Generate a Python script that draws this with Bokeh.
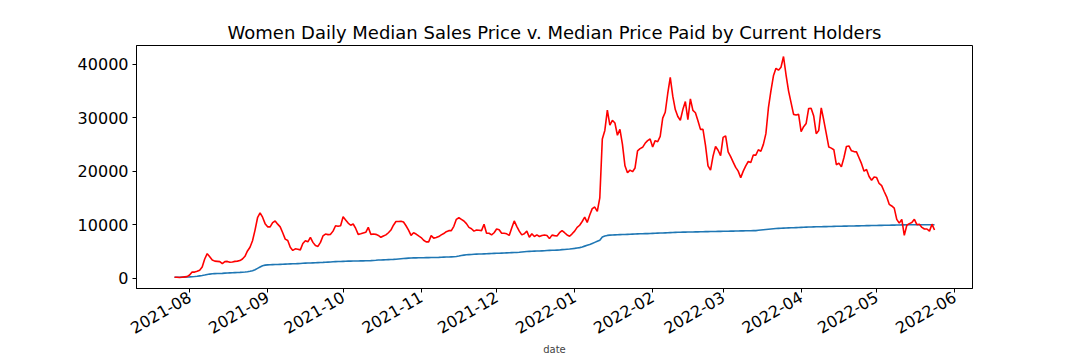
import pandas as pd
from bokeh.plotting import figure
from bokeh.models import Range1d, MonthsTicker, FixedTicker, DatetimeTickFormatter, BasicTickFormatter
from bokeh.embed import file_html
from bokeh.resources import INLINE
from math import pi

title_text = "Women Daily Median Sales Price v. Median Price Paid by Current Holders"
x_label = "date"
start_date = "2021-07-26"
y_ticks = [0, 10000, 20000, 30000, 40000]

# Daily median sales price (red)
sales_price = [
    200, 200, 150, 200, 250, 300,
    600, 1170, 1150, 1300, 1500, 2100, 3600, 4600, 4000, 3400,
    3200, 3150, 3100, 2720, 3100, 3150, 3000, 3050, 3150, 3200,
    3300, 3600, 4100, 5100, 5800, 7000, 9000, 11300, 12200, 11400,
    10200, 9600, 9600, 10400, 10700, 10100, 9600, 8500, 7300, 7050,
    5800, 5200, 5500, 5400, 5300, 6500, 7000, 6800, 7650,
    6700, 6100, 5950, 6700, 7900, 8250, 8150, 8200, 8800, 9800,
    9700, 9800, 11480, 10900, 10300, 9900, 10130, 9300, 8200, 8300,
    8450, 8580, 9500, 8200, 8250, 8200, 8000, 7650, 7900, 8100,
    8500, 9000, 9900, 10600, 10600, 10650, 10500, 9800, 9000, 8000,
    8500, 8250, 7900, 7600, 7100, 6800, 6800, 7960, 7500, 7600,
    7780, 8100, 8350, 8700, 8890, 8890, 9700, 11000, 11300, 11000,
    10700, 10200, 9500, 9250, 8800, 9000, 8950, 8890, 10100, 8400,
    8400, 8100, 8500, 9200, 9050, 8400, 8400, 8300, 8000, 9400,
    10700, 9700, 8800, 8100, 8300, 8800, 7650, 8300, 7800, 8090,
    7800, 8000, 8090, 8000, 7400, 8050, 7960, 7900, 8500,
    8890, 8500, 8090, 7850, 8300, 8800, 9500, 9900, 10600, 11400,
    10430, 11800, 13000, 13300, 12500, 15000, 26000, 27600, 31400, 28600,
    29500, 29000, 26700, 27800, 25000, 21000, 19700, 20200, 19900, 20600,
    23800, 24200, 24450, 25200, 25700, 26000, 24500, 25700, 25500, 26500,
    29900, 31000, 34500, 37500, 34000, 31500, 30200, 29500, 31500, 33000,
    29600, 33500, 31350, 30900, 29400, 27800, 27800, 24800, 21000, 20200,
    22800, 24600, 23900, 22900, 26300, 26600, 23600, 22700, 21700, 20700,
    20000, 18760, 20000, 21000, 21800, 21600, 23000, 23000, 24000, 23700,
    25000, 27000, 31800, 35000, 37800, 39200, 38850, 39400, 41400, 38000,
    35000, 32800, 30600, 30500, 30600, 27400, 28300, 28900, 31700, 31720,
    30300, 27000, 27600, 31800, 29500, 27000, 24500, 24300, 24000,
    21200, 21500, 20800, 22500, 24600, 24700, 23800, 23650, 23600, 22500,
    21400, 20000, 20300, 19000, 18300, 18900, 18800, 17700, 17300, 16200,
    15200, 13800, 13500, 13100, 11000, 10300, 11000, 8000, 9900, 10200,
    10400, 11000, 10000, 10100, 9500, 9200, 9200, 8800, 10100, 9000,
]

# Median price paid by current holders (blue)
holder_price = [
    200, 200, 200, 210, 220, 230,
    250, 280, 320, 380, 450, 520, 600, 700, 780, 830,
    860, 880, 900, 920, 950, 980, 1000, 1020, 1050, 1080,
    1100, 1130, 1170, 1220, 1300, 1420, 1600, 1850, 2100, 2350,
    2450, 2500, 2520, 2540, 2560, 2580, 2600, 2620, 2640, 2660,
    2680, 2700, 2720, 2740, 2760, 2800, 2820, 2840, 2860,
    2880, 2900, 2920, 2940, 2960, 2990, 3020, 3050, 3080, 3100,
    3120, 3140, 3160, 3180, 3190, 3200, 3210, 3220, 3230, 3240,
    3250, 3260, 3280, 3300, 3330, 3360, 3400, 3420, 3440, 3460,
    3480, 3500, 3520, 3560, 3600, 3640, 3680, 3720, 3760, 3790,
    3800, 3810, 3820, 3830, 3840, 3850, 3860, 3870, 3880, 3890,
    3900, 3920, 3940, 3960, 3980, 4000, 4020, 4060, 4150, 4250,
    4320, 4380, 4420, 4450, 4480, 4500, 4520, 4540, 4560, 4580,
    4600, 4620, 4640, 4660, 4680, 4700, 4720, 4740, 4760, 4780,
    4800, 4820, 4850, 4900, 4950, 5000, 5020, 5040, 5060, 5080,
    5100, 5120, 5140, 5180, 5200, 5220, 5240, 5260, 5280,
    5350, 5380, 5420, 5460, 5520, 5580, 5650, 5720, 5850, 6000,
    6150, 6300, 6500, 6700, 6900, 7100, 7700, 7900, 8000, 8050,
    8080, 8100, 8120, 8140, 8160, 8180, 8200, 8220, 8240, 8260,
    8280, 8300, 8320, 8330, 8340, 8360, 8380, 8400, 8420, 8440,
    8460, 8480, 8500, 8520, 8540, 8560, 8580, 8600, 8610, 8620,
    8630, 8640, 8650, 8660, 8670, 8680, 8690, 8700, 8710, 8720,
    8730, 8740, 8750, 8760, 8770, 8780, 8790, 8800, 8810, 8820,
    8830, 8840, 8850, 8860, 8870, 8880, 8890, 8900, 8950, 9000,
    9050, 9100, 9150, 9200, 9250, 9300, 9320, 9340, 9360, 9380,
    9400, 9420, 9440, 9460, 9480, 9500, 9520, 9540, 9560, 9580,
    9600, 9610, 9620, 9630, 9640, 9650, 9660, 9670, 9690,
    9700, 9710, 9720, 9730, 9740, 9750, 9760, 9770, 9780, 9790,
    9800, 9810, 9820, 9830, 9840, 9850, 9860, 9870, 9880, 9890,
    9900, 9910, 9920, 9930, 9940, 9950, 9960, 9970, 9980, 9990,
    10000, 10000, 10000, 10000, 10000, 10000, 10000, 10000, 10000, 10000,
]

n = min(len(sales_price), len(holder_price))
dates = pd.date_range(start_date, periods=n, freq="D")
sales = sales_price[:n]
holders = holder_price[:n]

span = dates[-1] - dates[0]
pad = span * 0.05
ymin = min(min(sales), min(holders))
ymax = max(max(sales), max(holders))
ypad = (ymax - ymin) * 0.05

p = figure(width=1072, height=358, x_axis_type="datetime",
           output_backend="svg", toolbar_location=None,
           x_range=Range1d(dates[0] - pad, dates[-1] + pad),
           y_range=Range1d(ymin - ypad, ymax + ypad),
           min_border_left=136, min_border_right=100,
           min_border_top=45, min_border_bottom=70)

p.line(dates, holders, line_color="#1f77b4", line_width=1.6)
p.line(dates, sales, line_color="#ff0000", line_width=1.6)

p.title.text = title_text
p.title.align = "center"
p.title.text_font = "DejaVu Sans"
p.title.text_font_size = "18px"
p.title.text_font_style = "normal"
p.title.text_color = "black"
p.title.standoff = 6

p.xgrid.visible = False
p.ygrid.visible = False
p.outline_line_color = "black"
p.outline_line_width = 1
p.background_fill_color = "white"
p.border_fill_color = "white"

p.xaxis.ticker = MonthsTicker(months=list(range(1, 13)))
fmt = "%Y-%m"
p.xaxis.formatter = DatetimeTickFormatter(days=fmt, months=fmt, years=fmt, hours=fmt,
                                          hourmin=fmt, minutes=fmt, minsec=fmt,
                                          seconds=fmt, milliseconds=fmt, microseconds=fmt)
p.xaxis.major_label_orientation = pi / 6
p.xaxis.axis_label = x_label
p.xaxis.axis_label_text_font = "DejaVu Sans"
p.xaxis.axis_label_text_font_size = "10px"
p.xaxis.axis_label_text_font_style = "normal"
p.xaxis.axis_label_standoff = 2
p.xaxis.major_label_standoff = 3

p.yaxis.ticker = FixedTicker(ticks=y_ticks)
p.yaxis.formatter = BasicTickFormatter(use_scientific=False)
p.yaxis.major_label_standoff = 4

for ax in (p.xaxis, p.yaxis):
    ax.major_label_text_font = "DejaVu Sans"
    ax.major_label_text_font_size = "16px"
    ax.major_label_text_color = "black"
    ax.major_tick_out = 4
    ax.major_tick_in = 0
    ax.minor_tick_out = 0
    ax.minor_tick_in = 0
    ax.major_tick_line_color = "black"
    ax.axis_line_color = "black"

open("out.html", "w").write(file_html(p, INLINE))
